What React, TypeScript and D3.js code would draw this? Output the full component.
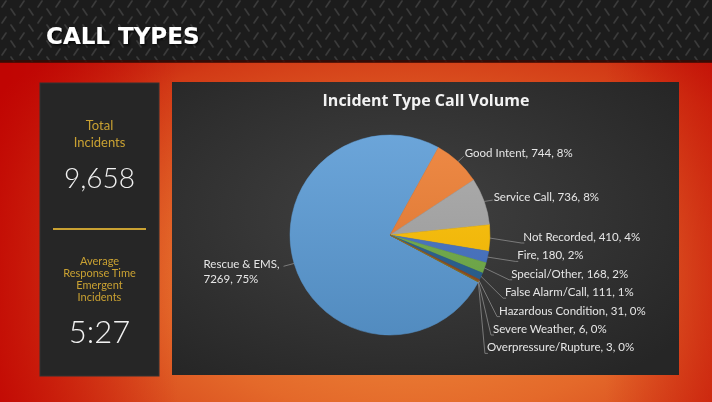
import React from "react";
import * as d3 from "d3";

// call types, largest first (Excel order), first slice angle 118deg
const categories = [
  "Rescue & EMS",
  "Good Intent",
  "Service Call",
  "Not Recorded",
  "Fire",
  "Special/Other",
  "False Alarm/Call",
  "Hazardous Condition",
  "Severe Weather",
  "Overpressure/Rupture",
];
const callCounts = [7269, 744, 736, 410, 180, 168, 111, 31, 6, 3];
const sliceColors = [
  "#5b9bd5", "#ed7d31", "#a5a5a5", "#ffc000", "#4472c4",
  "#70ad47", "#255e91", "#9e480e", "#636363", "#997300",
];
const totalIncidents = "9,658";
const avgResponse = "5:27";

const W = 712;
const H = 402;

type Slice = { name: string; value: number; color: string };

export default function App() {
  const data: Slice[] = categories.map((c, i) => ({ name: c, value: callCounts[i], color: sliceColors[i] }));
  const total = d3.sum(callCounts);

  const cx = 390, cy = 235, r = 100;
  const start = (118 * Math.PI) / 180;
  const pie = d3.pie<Slice>().value(d => d.value).sort(null).startAngle(start).endAngle(start + 2 * Math.PI);
  const arcs = pie(data);
  const arc = d3.arc<d3.PieArcDatum<Slice>>().innerRadius(0).outerRadius(r);
  const edgeArc = d3.arc<d3.PieArcDatum<Slice>>().innerRadius(r).outerRadius(r);
  const outerArc = d3.arc<d3.PieArcDatum<Slice>>().innerRadius(r * 1.1).outerRadius(r * 1.1);

  const pct = d3.format(".0%");
  const labelFont = { fontFamily: "Lato, 'Open Sans', sans-serif", fontSize: 11.5, fill: "#e6e6e6" };

  const labels = arcs.map((a, i) => {
    const [ex, ey] = edgeArc.centroid(a);
    const [ox, oy] = outerArc.centroid(a);
    const txt = `${a.data.name}, ${a.data.value}, ${pct(a.data.value / total)}`;
    const edge: [number, number] = [cx + ex, cy + ey];
    if (i === 0) {
      const tx = cx + ox - 81;
      return (
        <g key={i}>
          <line x1={edge[0]} y1={edge[1]} x2={cx + ox - 1} y2={cy + oy} stroke="#8c8c8c" strokeWidth={0.8} />
          <text {...labelFont} x={tx} y={cy + oy - 2} dy="0.35em">
            {a.data.name},
          </text>
          <text {...labelFont} x={tx} y={cy + oy + 13} dy="0.35em">
            {`${a.data.value}, ${pct(a.data.value / total)}`}
          </text>
        </g>
      );
    }
    if (i < 3) {
      const lx = cx + ox, ly = cy + oy;
      return (
        <g key={i}>
          <line x1={edge[0]} y1={edge[1]} x2={lx - 1} y2={ly + 2} stroke="#8c8c8c" strokeWidth={0.8} />
          <text {...labelFont} x={lx} y={ly - 1} dy="0.35em">{txt}</text>
        </g>
      );
    }
    const k = i - 3;
    const ly = cy + 2 + k * 18.4;
    const lx = cx + 134 - 0.33 * (ly - cy);
    return (
      <g key={i}>
        <polyline
          points={`${edge[0]},${edge[1]} ${lx - 2},${ly + 6} ${lx + 1},${ly + 6}`}
          fill="none"
          stroke="#8c8c8c"
          strokeWidth={0.8}
        />
        <text {...labelFont} x={lx} y={ly} dy="0.35em">{txt}</text>
      </g>
    );
  });

  const gold = "#c9a132";
  const panelFont = "Lato, 'Open Sans', sans-serif";

  return (
    <div style={{ position: "fixed", left: 0, top: 0 }}>
      <svg width={W} height={H} style={{ display: "block" }}>
        <defs>
          <radialGradient id="bg" cx="58%" cy="70%" r="75%">
            <stop offset="0%" stopColor="#f0913f" />
            <stop offset="45%" stopColor="#e4692a" />
            <stop offset="80%" stopColor="#d23a16" />
            <stop offset="100%" stopColor="#c0120a" />
          </radialGradient>
          <linearGradient id="redLeft" x1="0" x2="1" y1="0" y2="0">
            <stop offset="0%" stopColor="#c00000" stopOpacity={0.75} />
            <stop offset="25%" stopColor="#c00000" stopOpacity={0} />
            <stop offset="85%" stopColor="#c00000" stopOpacity={0} />
            <stop offset="100%" stopColor="#c00000" stopOpacity={0.45} />
          </linearGradient>
          <pattern id="plate" width="18" height="16" patternUnits="userSpaceOnUse">
            <rect width="18" height="16" fill="#1c1c1c" />
            <path d="M2,7 L6,1" stroke="#3b3b3b" strokeWidth={1.6} strokeLinecap="round" />
            <path d="M11,9 L15,15" stroke="#3b3b3b" strokeWidth={1.6} strokeLinecap="round" />
          </pattern>
          <radialGradient id="panel" cx="45%" cy="45%" r="70%">
            <stop offset="0%" stopColor="#424242" />
            <stop offset="100%" stopColor="#262626" />
          </radialGradient>
          <linearGradient id="shade" x1="0" x2="0" y1="0" y2="1">
            <stop offset="0%" stopColor="#ffffff" stopOpacity={0.1} />
            <stop offset="100%" stopColor="#000000" stopOpacity={0.1} />
          </linearGradient>
          <filter id="drop" x="-10%" y="-30%" width="120%" height="160%">
            <feDropShadow dx="1.5" dy="1.5" stdDeviation="1" floodColor="#000" floodOpacity="0.7" />
          </filter>
        </defs>

        {/* background */}
        <rect width={W} height={H} fill="url(#bg)" />
        <rect width={W} height={H} fill="url(#redLeft)" />
        <rect width={W} height={62} fill="url(#plate)" />
        <rect y={60} width={W} height={3} fill="#3a0a04" opacity={0.8} />
        <text
          x={46}
          y={44}
          fontFamily="'DejaVu Sans', sans-serif"
          fontWeight={700}
          fontSize={23}
          fill="#ffffff"
          filter="url(#drop)"
        >
          CALL TYPES
        </text>

        {/* left stats panel */}
        <rect x={40} y={83} width={119} height={293} fill="#262626" stroke="#333" strokeWidth={1} />
        <g fontFamily={panelFont} textAnchor="middle">
          <text x={99.5} y={125} dy="0.35em" fontSize={13} fill={gold}>Total</text>
          <text x={99.5} y={142} dy="0.35em" fontSize={13} fill={gold}>Incidents</text>
          <text x={99.5} y={178} dy="0.35em" fontSize={28} fontWeight={300} fill="#f2f2f2">{totalIncidents}</text>
          <line x1={53} x2={146} y1={229} y2={229} stroke={gold} strokeWidth={2.2} />
          <text x={99.5} y={261} dy="0.35em" fontSize={11} fill={gold}>Average</text>
          <text x={99.5} y={273} dy="0.35em" fontSize={11} fill={gold}>Response Time</text>
          <text x={99.5} y={285} dy="0.35em" fontSize={11} fill={gold}>Emergent</text>
          <text x={99.5} y={297.5} dy="0.35em" fontSize={11} fill={gold}>Incidents</text>
          <text x={99.5} y={332} dy="0.35em" fontSize={31} fontWeight={300} fill="#f2f2f2">{avgResponse}</text>
        </g>

        {/* chart panel */}
        <rect x={172} y={82} width={507} height={293} fill="url(#panel)" />
        <text
          x={426}
          y={100}
          dy="0.35em"
          textAnchor="middle"
          fontFamily="'Open Sans', 'DejaVu Sans', sans-serif"
          fontWeight={700}
          fontSize={16}
          fill="#f2f2f2"
        >
          Incident Type Call Volume
        </text>

        <g transform={`translate(${cx},${cy})`}>
          {arcs.map((a, i) => (
            <path key={i} d={arc(a) || ""} fill={a.data.color} stroke={a.data.color} strokeWidth={0.5} />
          ))}
          <circle r={r} fill="url(#shade)" />
        </g>
        {labels}
      </svg>
    </div>
  );
}
